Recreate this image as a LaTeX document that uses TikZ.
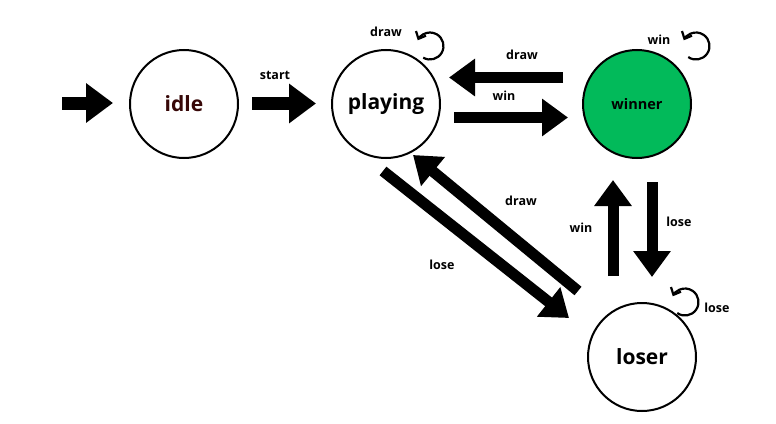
\documentclass[tikz,border=0pt]{standalone}
\usepackage{fontspec}
\setmainfont{Open Sans}
\usetikzlibrary{arrows.meta,calc}
\definecolor{wingreen}{RGB}{2,186,90}
\definecolor{idlered}{RGB}{55,8,8}
\tikzset{
  state/.style={circle, draw=black, line width=2pt, minimum size=108pt, inner sep=0pt, fill=white},
  blockarrow/.style={line width=11pt, -{Triangle[length=26pt,width=36pt]}},
  bigarrow/.style={line width=13pt, -{Triangle[length=27pt,width=38pt]}},
  loopline/.style={line width=2.2pt, -{Straight Barb[length=6pt,width=11pt]}},
  lbl/.style={font=\bfseries\fontsize{12.5}{14}\selectfont, inner sep=0pt},
  sname/.style={font=\bfseries\fontsize{21}{24}\selectfont}
}
\begin{document}
\begin{tikzpicture}[x=1pt,y=-1pt]
\useasboundingbox (0,0) rectangle (776,423);
\node[state, sname, text=idlered] (idle) at (184,104) {idle};
\node[state, sname] (playing) at (386,104) {playing};
\node[state, fill=wingreen, font=\bfseries\fontsize{14.5}{17}\selectfont] (winner) at (637,104) {winner};
\node[state, sname] (loser) at (642,357) {loser};

% entry
\coordinate (e0) at (62,103);
\coordinate (e1) at (113,103);
\draw[bigarrow] (e0) -- (e1);
% start
\coordinate (s0) at (252,103.5);
\coordinate (s1) at (316,103.5);
\draw[bigarrow] (s0) -- (s1);
\node[lbl] (lstart) at (275,75) {start};

% winner -> playing (draw)
\coordinate (d0) at (563,77.5);
\coordinate (d1) at (449,77.5);
\draw[blockarrow] (d0) -- (d1);
\node[lbl] (ldraw1) at (522,55) {draw};
% playing -> winner (win)
\coordinate (w0) at (454,117.5);
\coordinate (w1) at (568,117.5);
\draw[blockarrow] (w0) -- (w1);
\node[lbl] (lwin1) at (504,96) {win};

% playing -> loser (lose)
\coordinate (l0) at (383,171);
\coordinate (l1) at (569,318);
\draw[blockarrow] (l0) -- (l1);
\node[lbl] (llose1) at (442,265) {lose};
% loser -> playing (draw)
\coordinate (p0) at (578,291);
\coordinate (p1) at (413,155);
\draw[blockarrow] (p0) -- (p1);
\node[lbl] (ldraw2) at (521,201) {draw};

% loser -> winner (win)
\coordinate (u0) at (613,276);
\coordinate (u1) at (613,180);
\draw[blockarrow] (u0) -- (u1);
\node[lbl] (lwin2) at (581,228) {win};
% winner -> loser (lose)
\coordinate (v0) at (652,182);
\coordinate (v1) at (652,277);
\draw[blockarrow] (v0) -- (v1);
\node[lbl] (llose2) at (679,222) {lose};

% self loops
\coordinate (pl) at (430,46);
\draw[loopline] ($(pl)+(120:13.5)$) arc[start angle=120, end angle=-155, radius=13.5];
\node[lbl] (ldraw3) at (386,32) {draw};
\coordinate (wl) at (696,46);
\draw[loopline] ($(wl)+(125:13.5)$) arc[start angle=125, end angle=-155, radius=13.5];
\node[lbl] (lwin3) at (659,40) {win};
\coordinate (ll) at (685,302);
\draw[loopline] ($(ll)+(125:13.5)$) arc[start angle=125, end angle=-155, radius=13.5];
\node[lbl] (llose3) at (717,308) {lose};
\end{tikzpicture}
\end{document}
